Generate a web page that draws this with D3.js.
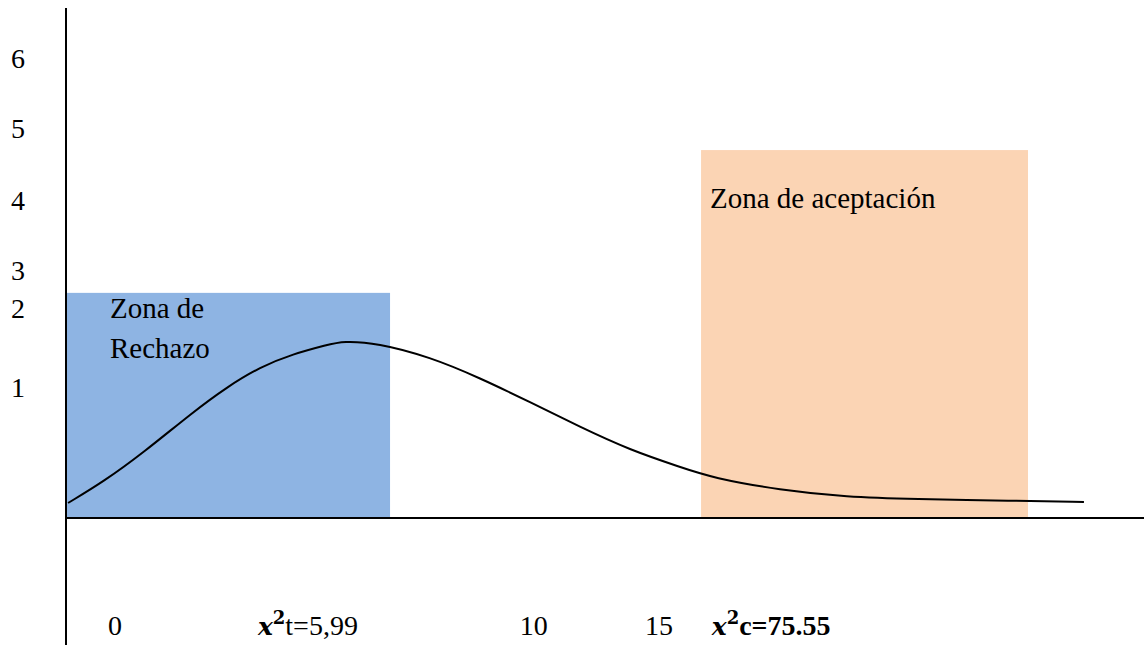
<!DOCTYPE html>
<html>

<head>
  <meta charset="UTF-8">
  <script src="https://d3js.org/d3.v7.js"></script>
  <style>
    body { margin: 0; background: #fff; }
  </style>
</head>

<body>
  <div id="chart"></div>

  <script>
    // set up

    const W = 1144;
    const H = 645;
    const serif = "'Liberation Serif', 'Times New Roman', 'DejaVu Serif', serif";

    const svg = d3.select('#chart')
      .append('svg')
        .attr('width', W)
        .attr('height', H)
        .attr('font-family', serif);

    // data (x in 0-100 units, y in 0-7 units)

    const yTickLabels = ['6', '5', '4', '3', '2', '1'];
    const yTickPos = [6.18, 5.22, 4.23, 3.27, 2.75, 1.66];

    const curveX = [0.19, 3.43, 7.14, 11.78, 14.94, 18.0, 21.06, 24.21, 25.7, 28.85,
                    33.77, 38.4, 43.04, 47.68, 52.32, 56.96, 60.02, 66.23, 72.45, 78.57, 87.85, 94.43];
    const curveY = [0.206, 0.494, 0.892, 1.455, 1.798, 2.073, 2.251, 2.375, 2.429, 2.402,
                    2.21, 1.922, 1.592, 1.249, 0.933, 0.7, 0.549, 0.384, 0.288, 0.261, 0.237, 0.22];

    const zones = [
      {name: 'rechazo', x0: 0.07, x1: 30.06, top: 3.09},
      {name: 'aceptacion', x0: 58.91, x1: 89.24, top: 5.05}
    ];
    const zoneColors = ['#8EB4E3', '#FBD4B4'];

    // x labels
    const xLabels = [
      {pre: '', rest: '0', bold: false, pos: 3.9},
      {pre: 'x', rest: 't=5,99', bold: false, pos: 17.8},
      {pre: '', rest: '10', bold: false, pos: 42.1},
      {pre: '', rest: '15', bold: false, pos: 53.7},
      {pre: 'x', rest: 'c=75.55', bold: true, pos: 59.9}
    ];
    const xLabelY = -1.6;

    const zoneText = [
      {lines: ['Zona de', 'Rechazo'], x: 4.08, y: [2.745, 2.196]},
      {lines: ['Zona de aceptación'], x: 59.74, y: [4.255]}
    ];

    // scales

    const x = d3.scaleLinear().domain([0, 100]).range([66, 1144]);
    const y = d3.scaleLinear().domain([0, 7]).range([518, 8]);

    // zones

    svg.append('g')
      .selectAll('rect')
      .data(zones)
      .join('rect')
        .attr('x', d => x(d.x0))
        .attr('y', d => y(d.top))
        .attr('width', d => x(d.x1) - x(d.x0))
        .attr('height', d => y(0) - y(d.top))
        .attr('fill', (d, i) => zoneColors[i]);

    // zone labels

    zoneText.forEach(z => {
      z.lines.forEach((l, i) => {
        svg.append('text')
          .attr('x', x(z.x))
          .attr('y', y(z.y[i]))
          .attr('font-size', 29)
          .text(l);
      });
    });

    // curve

    const line = d3.line()
        .x(d => x(d[0]))
        .y(d => y(d[1]))
        .curve(d3.curveBasis);

    svg.append('path')
      .datum(d3.zip(curveX, curveY))
      .attr('d', line)
      .attr('fill', 'none')
      .attr('stroke', '#000')
      .attr('stroke-width', 2);

    // axes

    svg.append('line')
      .attr('x1', x(0)).attr('x2', x(0))
      .attr('y1', y(7)).attr('y2', H)
      .attr('stroke', '#000').attr('stroke-width', 2);

    svg.append('line')
      .attr('x1', x(0)).attr('x2', x(100))
      .attr('y1', y(0)).attr('y2', y(0))
      .attr('stroke', '#000').attr('stroke-width', 2);

    // y labels

    svg.append('g')
      .selectAll('text')
      .data(yTickLabels)
      .join('text')
        .attr('x', 18)
        .attr('y', (d, i) => y(yTickPos[i]))
        .attr('text-anchor', 'middle')
        .attr('font-size', 28)
        .text(d => d);

    // x labels

    xLabels.forEach(d => {
      const t = svg.append('text')
        .attr('x', x(d.pos))
        .attr('y', y(xLabelY))
        .attr('font-size', 28);
      if (d.pre) {
        t.append('tspan')
          .attr('font-family', "'DejaVu Serif', serif")
          .attr('font-style', 'italic')
          .attr('font-weight', 'bold')
          .attr('font-size', 25)
          .text(d.pre);
        t.append('tspan')
          .attr('font-family', "'DejaVu Serif', serif")
          .attr('font-weight', 'bold')
          .attr('font-size', 18)
          .attr('dy', -11)
          .text('2');
        t.append('tspan')
          .attr('dy', 11)
          .attr('font-weight', d.bold ? 'bold' : 'normal')
          .text(d.rest);
      } else {
        t.text(d.rest);
      }
    });
  </script>
</body>

</html>
